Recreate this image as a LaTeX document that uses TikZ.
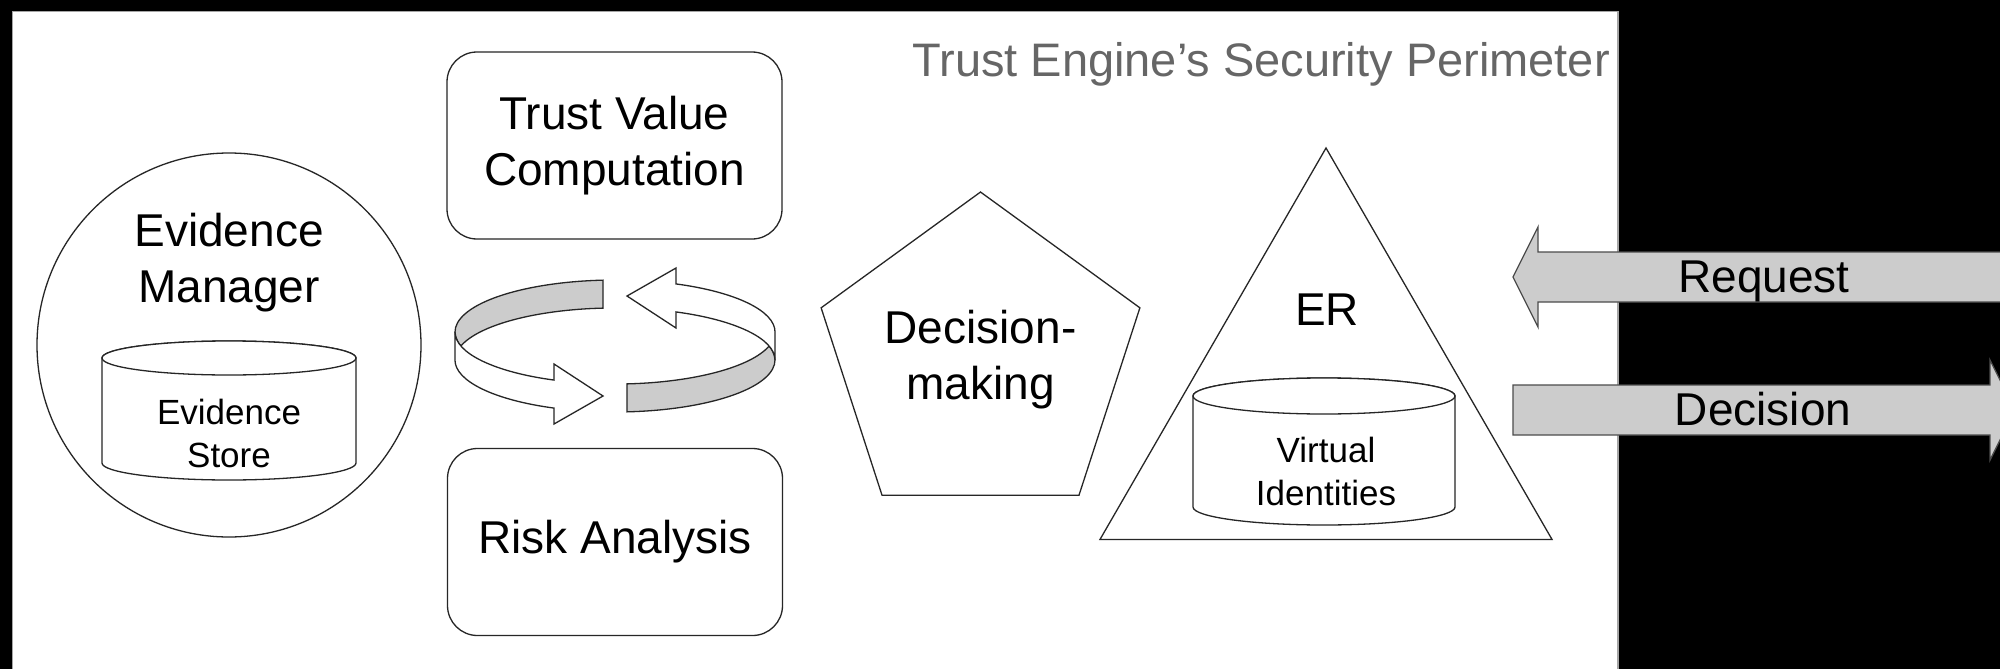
\documentclass[tikz,border=0pt]{standalone}
\usepackage{fontspec}
\setmainfont{Liberation Sans}
\usetikzlibrary{positioning,calc,shapes.geometric}
\definecolor{BandGray}{RGB}{204,204,204}
\definecolor{EdgeGray}{RGB}{165,165,165}
\definecolor{TitleGray}{RGB}{102,102,102}
\newcommand{\bigtxt}{\fontsize{46}{56}\selectfont}
\newcommand{\smalltxt}{\fontsize{35}{43}\selectfont}
\tikzset{
  outline/.style={draw=black!85,line width=1.3pt,fill=white},
  box/.style={outline,rectangle,rounded corners=30pt,minimum width=335pt,
    minimum height=187pt,inner sep=0pt,align=center,font=\bigtxt},
  bigtext/.style={inner sep=0pt,align=center,font=\bigtxt},
  smalltext/.style={inner sep=0pt,align=center,font=\smalltxt},
  ring/.style={draw=black!85,line width=1.3pt},
  flow/.style={draw=black!70,fill=BandGray,line width=1.3pt},
}

\begin{document}
\begin{tikzpicture}[x=1pt,y=-1pt]
  \useasboundingbox (0,0) rectangle (2000,669);
  \fill[black] (0,0) rectangle (2000,669);
  \clip (0,0) rectangle (2000,669);

  % security perimeter
  \draw[draw=EdgeGray,fill=white,line width=1.5pt] (12.5,11.5) rectangle (1618,700);
  \node[font=\fontsize{47}{56}\selectfont,text=TitleGray,inner sep=0pt,anchor=base east]
    (perim) at (1610,77) {Trust Engine’s Security Perimeter};

  % evidence manager with its store
  \node[outline,circle,minimum size=384pt,inner sep=0pt] (em) at (229,345) {};
  \node[bigtext] (emlbl) at (229,263) {Evidence\\Manager};

  % trust value / risk boxes
  \node[box] (tvc) at (614.5,145.5) {Trust Value\\Computation};
  \node[box] (risk) at (615,542) {Risk Analysis};

  % decision making and the ER triangle
  \node[outline,regular polygon,regular polygon sides=5,minimum size=331pt,
    inner sep=0pt,align=center,font=\bigtxt] (dm) at (980.5,359.6) {Decision-\\making};
  \node[outline,regular polygon,regular polygon sides=3,minimum size=522pt,
    inner sep=0pt] (er) at (1326,409) {};
  \node[bigtext,anchor=base] (erlbl) at (1327,325) {ER};

  % the two stores
  \foreach \cx/\ya/\yb/\rx/\ry in {229/358/463/127/17,1324/396/507/131/18}{
    \draw[outline] ({\cx-\rx},\ya) -- ({\cx-\rx},\yb)
      arc[start angle=180,end angle=0,x radius=\rx,y radius=\ry]
      -- ({\cx+\rx},\ya)
      arc[start angle=0,end angle=-180,x radius=\rx,y radius=\ry] -- cycle;
    \draw[outline] (\cx,\ya) ellipse[x radius=\rx,y radius=\ry];
  }
  \node[smalltext] (evstore) at (229,433) {Evidence\\Store};
  \node[smalltext] (vid) at (1326,471) {Virtual\\Identities};

  % circular arrows, second one is the first turned half way round
  \foreach \turn in {0,180}{
    \begin{scope}[shift={(615,346)},rotate=\turn]
      \draw[ring,fill=BandGray] (-12,-65.85)
        arc[start angle=265.7,end angle=164.4,x radius=160,y radius=52]
        arc[start angle=195.6,end angle=265.7,x radius=160,y radius=52] -- cycle;
      \draw[ring,fill=white] (-160,-14)
        arc[start angle=180,end angle=112.4,x radius=160,y radius=52]
        -- (-61,18) -- (-12,50) -- (-61,78) -- (-61,62.08)
        arc[start angle=112.4,end angle=180,x radius=160,y radius=52] -- cycle;
    \end{scope}
  }

  % request in, decision out
  \coordinate (req) at (1513,277);
  \draw[flow] (req) -- ++(25,-50) -- ++(0,25) -- ++(500,0) -- ++(0,50)
    -- ++(-500,0) -- ++(0,25) -- cycle;
  \node[bigtext,anchor=base] (reqlbl) at (1764,292) {Request};

  \coordinate (dec) at (1513,410);
  \draw[flow] (dec) ++(0,-25) -- ++(477,0) -- ++(0,-25) -- ++(25,50)
    -- ++(-25,50) -- ++(0,-25) -- ++(-477,0) -- cycle;
  \node[bigtext,anchor=base] (declbl) at (1763,425) {Decision};
\end{tikzpicture}
\end{document}
